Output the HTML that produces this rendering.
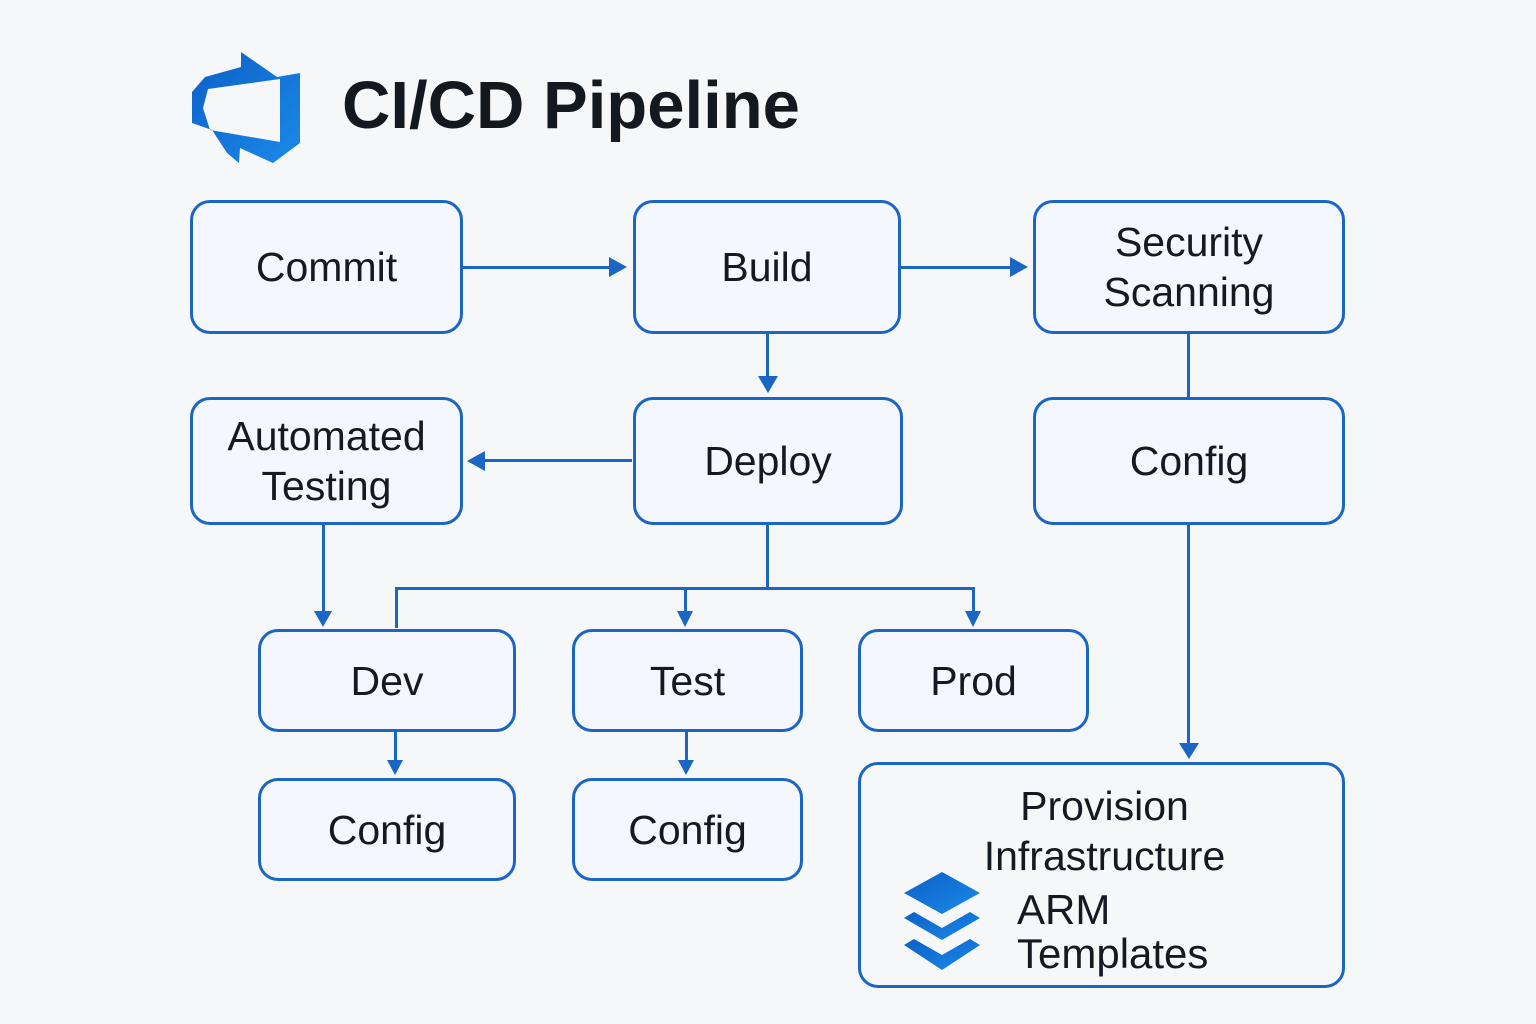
<!DOCTYPE html>
<html><head><meta charset="utf-8"><style>
body{margin:0;width:1536px;height:1024px;background:#f6f7f9;overflow:hidden;position:relative;font-family:"Liberation Sans","DejaVu Sans",sans-serif;}
.b{position:absolute;box-sizing:border-box;border:3px solid #1b66c4;border-radius:20px;background:#f4f7fd;display:flex;align-items:center;justify-content:center;text-align:center;color:#151a22;font-size:41px;line-height:50px;}
svg{position:absolute;left:0;top:0}
</style></head><body>
<svg width="1536" height="1024">
<defs>
<linearGradient id="g" x1="0" y1="0" x2="1" y2="1"><stop offset="0" stop-color="#0c5fc6"/><stop offset="1" stop-color="#1a8ae8"/></linearGradient>
</defs>
<path fill-rule="evenodd" fill="url(#g)" d="M241,52 L277,77 L300,73 L300,143 L273,163 L240,148 L239,163 L227,153 L212,130 L192,123 L192,92 L205,77 L241,67 Z M208,89 L280,79 L280,142 L210,130 L203,108 Z"/>
<g fill="#1b66c4">
<rect x="463" y="266" width="150" height="3"/><path d="M609,257L627,267L609,277Z"/>
<rect x="901" y="266" width="112" height="3"/><path d="M1010,257L1028,267L1010,277Z"/>
<rect x="766" y="334" width="3" height="44"/><path d="M758,376L768,393L778,376Z"/>
<rect x="482" y="459" width="150" height="3"/><path d="M485,451L467,461L485,471Z"/>
<rect x="1187" y="334" width="3" height="63"/>
<rect x="1187" y="525" width="3" height="220"/><path d="M1179,743L1189,759L1199,743Z"/>
<rect x="322" y="525" width="3" height="88"/><path d="M314,611L323,627L332,611Z"/>
<rect x="766" y="525" width="3" height="64"/>
<rect x="395" y="587" width="580" height="3"/>
<rect x="395" y="587" width="3" height="41"/>
<rect x="684" y="587" width="3" height="26"/><path d="M677,611L685,627L693,611Z"/>
<rect x="972" y="587" width="3" height="26"/><path d="M965,611L973,627L981,611Z"/>
<rect x="394" y="732" width="3" height="30"/><path d="M387,760L395,775L403,760Z"/>
<rect x="685" y="732" width="3" height="30"/><path d="M678,760L686,775L694,760Z"/>
</g>
<g fill="url(#g)">
<path d="M942,872L980,893L942,914L904,893Z"/>
<path d="M904,918L914,912L942,928L970,912L980,918L942,940Z"/>
<path d="M904,945L914,939L942,955L970,939L980,945L942,970Z"/>
</g>
</svg>
<div style="position:absolute;left:342px;top:66px;font-size:67px;font-weight:bold;color:#14181f;line-height:80px">CI/CD Pipeline</div>
<div class="b" style="left:190px;top:200px;width:273px;height:134px">Commit</div>
<div class="b" style="left:633px;top:200px;width:268px;height:134px">Build</div>
<div class="b" style="left:1033px;top:200px;width:312px;height:134px">Security<br>Scanning</div>
<div class="b" style="left:190px;top:397px;width:273px;height:128px">Automated<br>Testing</div>
<div class="b" style="left:633px;top:397px;width:270px;height:128px">Deploy</div>
<div class="b" style="left:1033px;top:397px;width:312px;height:128px">Config</div>
<div class="b" style="left:258px;top:629px;width:258px;height:103px">Dev</div>
<div class="b" style="left:572px;top:629px;width:231px;height:103px">Test</div>
<div class="b" style="left:858px;top:629px;width:231px;height:103px">Prod</div>
<div class="b" style="left:258px;top:778px;width:258px;height:103px">Config</div>
<div class="b" style="left:572px;top:778px;width:231px;height:103px">Config</div>
<div class="b" style="left:858px;top:762px;width:487px;height:226px;align-items:flex-start;background:transparent"><div style="margin-top:16px;margin-left:6px">Provision<br>Infrastructure</div></div>
<div style="position:absolute;left:1017px;top:888px;font-size:42px;line-height:44px;color:#151a22">ARM<br>Templates</div>
</body></html>
